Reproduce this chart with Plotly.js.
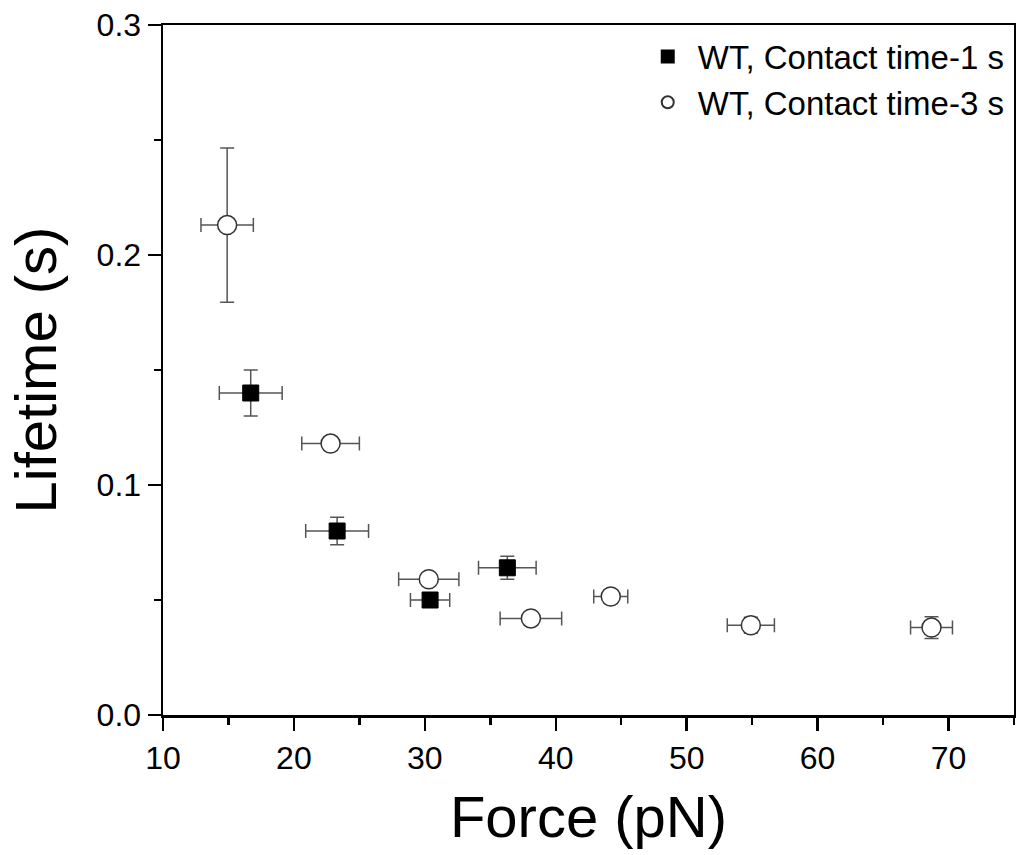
<!DOCTYPE html>
<html>
<head>
<meta charset="utf-8">
<script src="https://cdn.plot.ly/plotly-3.0.1.min.js"></script>
<style>html,body{margin:0;padding:0;background:#fff;}#chart{width:1016px;height:855px;}</style>
</head>
<body>
<div id="chart"></div>
<script>
// Series 1: WT, Contact time-1 s
const force1 = [16.7, 23.3, 30.4, 36.3];
const life1 = [0.140, 0.080, 0.050, 0.064];
const forceErr1 = [2.4, 2.4, 1.5, 2.2];
const lifeErr1 = [0.010, 0.006, 0.002, 0.005];

// Series 2: WT, Contact time-3 s
const force3 = [14.9, 22.8, 30.3, 38.1, 44.2, 54.9, 68.7];
const life3 = [0.213, 0.118, 0.059, 0.042, 0.0515, 0.039, 0.038];
const forceErr3 = [2.0, 2.2, 2.3, 2.35, 1.3, 1.8, 1.6];
const lifeErr3 = [0.0335, 0.003, 0.002, 0.002, 0.003, 0.0035, 0.0047];

const legendNames = ['WT, Contact time-1 s', 'WT, Contact time-3 s'];

const font = 'Liberation Sans, Arial, sans-serif';
const errStyle = {color: '#555555', thickness: 1.5, width: 7};

const traces = [
  {
    x: force1, y: life1, name: legendNames[0], type: 'scatter', mode: 'markers',
    marker: {symbol: 'square', size: 16, color: '#000000', line: {color: '#000000', width: 1}},
    error_x: Object.assign({type: 'data', array: forceErr1, visible: true}, errStyle),
    error_y: Object.assign({type: 'data', array: lifeErr1, visible: true}, errStyle)
  },
  {
    x: force3, y: life3, name: legendNames[1], type: 'scatter', mode: 'markers',
    marker: {symbol: 'circle', size: 19, color: '#ffffff', line: {color: '#333333', width: 1.5}},
    error_x: Object.assign({type: 'data', array: forceErr3, visible: true}, errStyle),
    error_y: Object.assign({type: 'data', array: lifeErr3, visible: true}, errStyle)
  }
];

const layout = {
  width: 1016, height: 855,
  margin: {l: 163, r: 2, t: 25, b: 140},
  paper_bgcolor: '#ffffff', plot_bgcolor: '#ffffff',
  font: {family: font, color: '#000000'},
  showlegend: true,
  legend: {
    x: 0.995, y: 0.995, xanchor: 'right', yanchor: 'top',
    bgcolor: 'rgba(0,0,0,0)', font: {family: font, size: 33, color: '#000'},
    itemsizing: 'constant', itemwidth: 50, tracegroupgap: 0
  },
  xaxis: {
    range: [10, 75], dtick: 10, tick0: 10,
    showgrid: false, zeroline: false,
    showline: true, mirror: true, linecolor: '#000', linewidth: 2.5,
    ticks: 'outside', ticklen: 13, tickwidth: 2.5, tickcolor: '#000',
    minor: {dtick: 5, ticks: 'outside', ticklen: 7, tickwidth: 2.5, tickcolor: '#000', showgrid: false},
    tickfont: {family: font, size: 32, color: '#000'},
    title: {text: 'Force (pN)', font: {family: font, size: 58, color: '#000'}, standoff: 22}
  },
  yaxis: {
    range: [0, 0.3], dtick: 0.1, tick0: 0, tickformat: '.1f',
    showgrid: false, zeroline: false,
    showline: true, mirror: true, linecolor: '#000', linewidth: 2.5,
    ticks: 'outside', ticklen: 13, tickwidth: 2.5, tickcolor: '#000',
    minor: {dtick: 0.05, ticks: 'outside', ticklen: 7, tickwidth: 2.5, tickcolor: '#000', showgrid: false},
    tickfont: {family: font, size: 32, color: '#000'},
    title: {text: 'Lifetime (s)', font: {family: font, size: 58, color: '#000'}, standoff: 22}
  }
};

Plotly.newPlot('chart', traces, layout, {displayModeBar: false, staticPlot: true});
</script>
</body>
</html>
